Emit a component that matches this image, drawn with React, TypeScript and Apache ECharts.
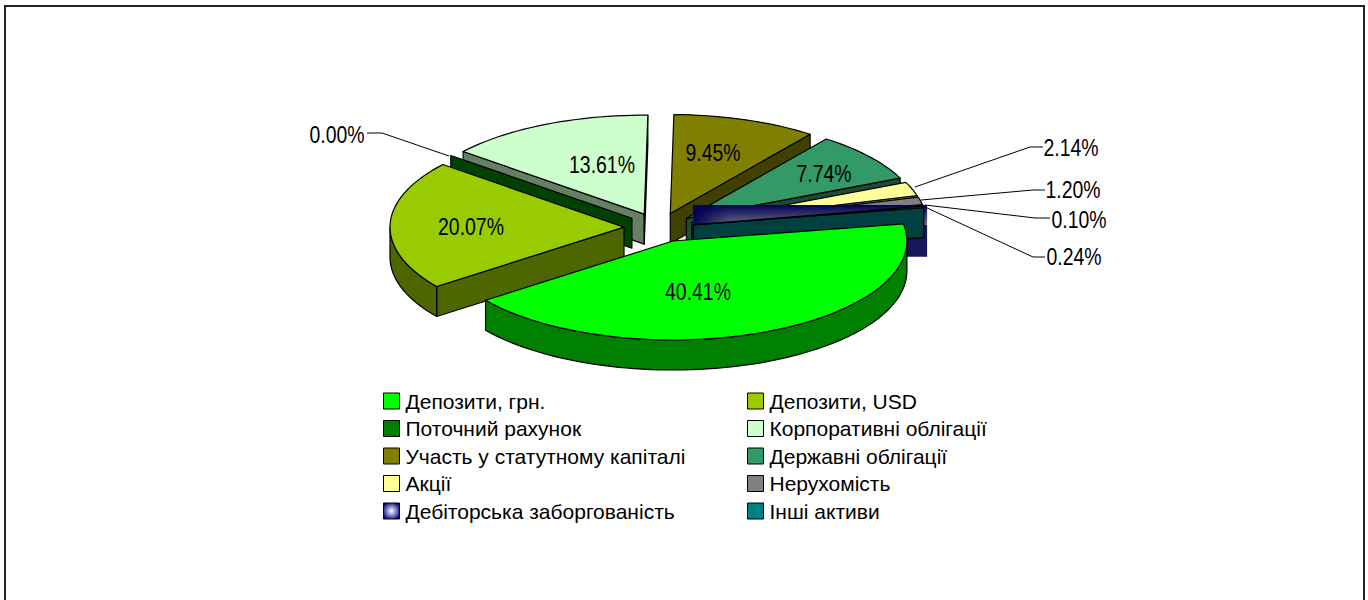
import React, { useEffect, useRef } from "react";
import * as echarts from "echarts";

const categories = ["Депозити, грн.", "Депозити, USD", "Поточний рахунок", "Корпоративні облігації", "Участь у статутному капіталі", "Державні облігації", "Акції", "Нерухомість", "Дебіторська заборгованість", "Інші активи"];
const values = [40.41, 20.07, 0.0, 13.61, 9.45, 7.74, 2.14, 1.2, 0.1, 0.24];
const colors = ["#00FF00", "#99CC00", "#008000", "#CCFFCC", "#808000", "#339966", "#FFFF99", "#808080", "#000066", "#008080"];
const walls = ["#008000", "#4D6600", "#004000", "#668066", "#404000", "#1A4D33", "#80804D", "#404040", "#000033", "#004040"];
const paintOrder = [3, 2, 4, 5, 6, 7, 8, 9, 1, 0];
const leftLegend = [0, 2, 4, 6, 8];
const rightLegend = [1, 3, 5, 7, 9];

// label centre, and leader line where the label sits outside the slice
const labelAt: [number, number][] = [[698, 292], [471, 227], [337, 135], [602, 165], [713, 153], [824, 174], [1071, 148], [1073, 190], [1079, 220], [1074, 257]];
const leaders: ([number, number][] | null)[] = [
  null, null,
  [[367, 133], [382, 133], [449, 156]],
  null, null, null,
  [[1043, 147], [1030, 147], [915, 187]],
  [[1045, 190], [1033, 190], [921, 200]],
  [[1050, 218], [1035, 218], [925, 205]],
  [[1045, 257], [1033, 257], [925, 207]],
];

const FONT = "'Liberation Sans', Arial, sans-serif";
const CX = 659, CY = 227.5, RX = 234, RY = 99, DEPTH = 30, EXPLODE = 35, START = -10;
const total = values.reduce((a, b) => a + b, 0);
const rad = (d: number) => (d * Math.PI) / 180;

function sliceAngles(i: number): [number, number] {
  let a = START;
  for (let k = 0; k < i; k++) a += (values[k] / total) * 360;
  return [a, a + (values[i] / total) * 360];
}

function arcPoints(ax: number, ay: number, from: number, to: number) {
  const pts: number[][] = [];
  const n = Math.max(1, Math.ceil((to - from) / 2));
  for (let s = 0; s <= n; s++) {
    const t = rad(from + ((to - from) * s) / n);
    pts.push([ax + RX * Math.cos(t), ay + RY * Math.sin(t)]);
  }
  return pts;
}

function poly(points: number[][], fill: any, stroke: string = "#000", lineWidth = 1.2) {
  return { type: "polygon", shape: { points }, style: { fill, stroke, lineWidth, lineJoin: "round" }, silent: true };
}

function renderSlice(i: number) {
  const [a0, a1] = sliceAngles(i);
  const mid = rad((a0 + a1) / 2);
  const ax = CX + EXPLODE * Math.cos(mid);
  const ay = CY + EXPLODE * 0.42 * Math.sin(mid);
  const children: any[] = [];
  const p0 = [ax + RX * Math.cos(rad(a0)), ay + RY * Math.sin(rad(a0))];
  const p1 = [ax + RX * Math.cos(rad(a1)), ay + RY * Math.sin(rad(a1))];
  const down = (p: number[]) => [p[0], p[1] + DEPTH];

  if (categories[i].startsWith("Дебіторська")) {
    // the original's gradient fills the bounding box of the very thin slice
    const right = p1[0] + 4;
    const top = p1[1] - 1;
    const width = right - ax;
    children.push({
      type: "rect", shape: { x: ax, y: top, width, height: ay - top }, silent: true,
      style: { fill: new echarts.graphic.LinearGradient(0, 0, 0, 1, [
        { offset: 0, color: "#000055" }, { offset: 1, color: "#6E6E84" },
      ]) },
    });
    children.push({
      type: "rect", shape: { x: ax, y: top, width: width * 0.16, height: ay - top }, silent: true,
      style: { fill: new echarts.graphic.LinearGradient(0, 0, 1, 0, [
        { offset: 0, color: "rgba(0,0,85,1)" }, { offset: 1, color: "rgba(0,0,85,0)" },
      ]) },
    });
    children.push({
      type: "rect", shape: { x: ax, y: ay, width, height: DEPTH + 2 }, silent: true,
      style: { fill: "#16165A" },
    });
  } else {
    if (Math.cos(rad(a0)) < 0) children.push(poly([[ax, ay], p0, down(p0), [ax, ay + DEPTH]], walls[i]));
    if (Math.cos(rad(a1)) > 0) children.push(poly([[ax, ay], p1, down(p1), [ax, ay + DEPTH]], walls[i]));
    const w0 = Math.max(a0, 0), w1 = Math.min(a1, 180);
    if (w1 > w0) {
      const front = arcPoints(ax, ay, w0, w1);
      const back = front.map(down).reverse();
      children.push(poly([...front, ...back], walls[i]));
    }
    if (a1 > a0) children.push(poly([[ax, ay], ...arcPoints(ax, ay, a0, a1)], colors[i]));
  }

  const lead = leaders[i];
  if (lead) {
    children.push({ type: "polyline", shape: { points: lead }, style: { stroke: "#000", lineWidth: 1, fill: "none" }, silent: true });
  }
  children.push({
    type: "text", x: labelAt[i][0], y: labelAt[i][1], scaleX: 0.81, silent: true,
    style: { text: values[i].toFixed(2) + "%", fill: "#000", font: `24px ${FONT}`, align: "center", verticalAlign: "middle" },
  });
  return { type: "group", children };
}

function legendItems(ids: number[]) {
  return ids.map((i) => ({
    name: categories[i],
    icon: "rect",
    itemStyle: {
      color: categories[i].startsWith("Дебіторська")
        ? new echarts.graphic.RadialGradient(0.5, 0.5, 0.6, [{ offset: 0, color: "#FFFFFF" }, { offset: 1, color: "#000080" }])
        : colors[i],
      borderColor: "#000",
      borderWidth: 1,
    },
  }));
}

function legendAt(left: number, ids: number[]) {
  return {
    orient: "vertical" as const,
    left,
    top: 390,
    padding: 0,
    itemWidth: 16,
    itemHeight: 16,
    itemGap: 5.5,
    selectedMode: false,
    data: legendItems(ids),
    textStyle: { fontFamily: FONT, fontSize: 21, lineHeight: 22, color: "#000", padding: [0, 0, 0, 1] },
  };
}

export default function App() {
  const ref = useRef<HTMLDivElement>(null);
  useEffect(() => {
    const chart = echarts.init(ref.current!, undefined, { renderer: "svg" });
    chart.setOption({
      animation: false,
      backgroundColor: "#FFFFFF",
      graphic: [{
        type: "rect", z: 0, silent: true,
        shape: { x: 5, y: 6, width: 1359, height: 620 },
        style: { fill: "none", stroke: "#222", lineWidth: 2 },
      }],
      legend: [legendAt(383, leftLegend), legendAt(747, rightLegend)],
      series: paintOrder.map((i, order) => ({
        type: "custom",
        name: categories[i],
        coordinateSystem: "none",
        z: 2 + order,
        silent: true,
        itemStyle: { color: colors[i] },
        data: [[values[i]]],
        renderItem: () => renderSlice(i),
      })),
    });
    return () => chart.dispose();
  }, []);
  return <div ref={ref} style={{ position: "absolute", left: 0, top: 0, width: 1368, height: 600 }} />;
}
